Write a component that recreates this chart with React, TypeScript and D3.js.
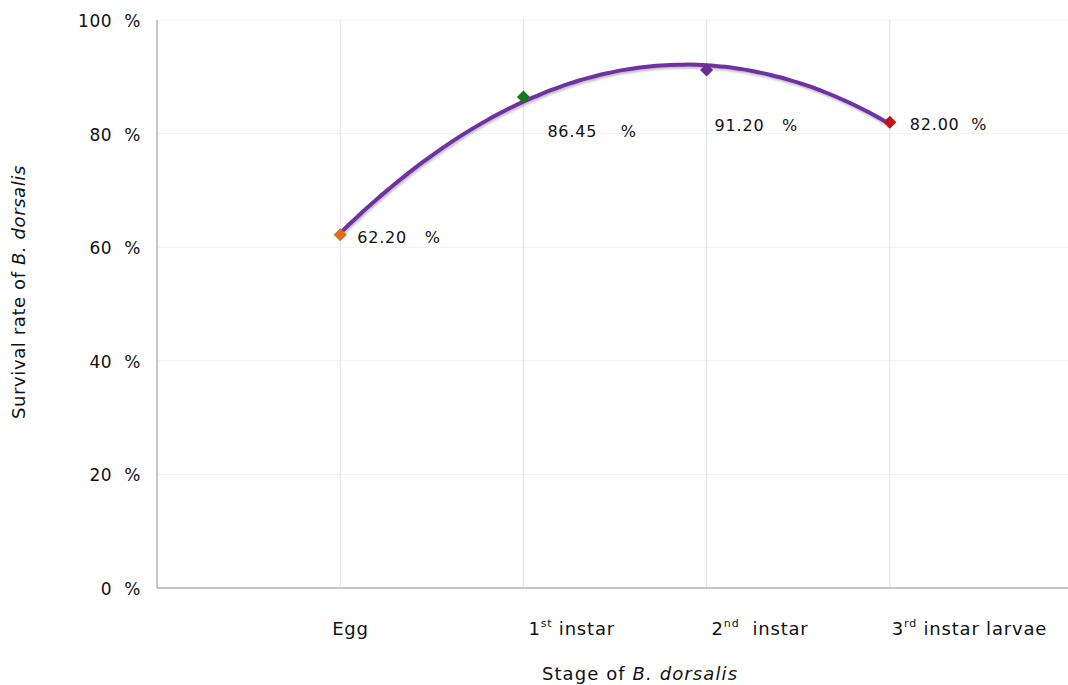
import React from "react";
import * as d3 from "d3";

const stages = ["Egg", "1st instar", "2nd instar", "3rd instar larvae"];
const stageMain = ["Egg", "1", "2", "3"];
const stageSup = ["", "st", "nd", "rd"];
const stageRest = ["", " instar", "  instar", " instar larvae"];
const survival = [62.2, 86.45, 91.2, 82.0];
const valueLabels = ["62.20   %", "86.45    %", "91.20   %", "82.00  %"];
const markerColors = ["#D9701F", "#167A16", "#6B2C91", "#C0131A"];
const yTicks = [0, 20, 40, 60, 80, 100];

const W = 1068;
const H = 685;
const M = { left: 157, top: 20, right: 1073, bottom: 588 };
const labelDx = [-8, 5, 5, 2];
const valueLabelPos = [
  { dx: 17, dy: 8 },
  { dx: 24, dy: 40 },
  { dx: 8, dy: 61 },
  { dx: 20, dy: 8 },
];

function quadFit(xs: number[], ys: number[]) {
  // least squares fit y = a + b x + c x^2 (polynomial trendline)
  const n = xs.length;
  const s = [0, 0, 0, 0, 0];
  const t = [0, 0, 0];
  for (let i = 0; i < n; i++) {
    const x = xs[i];
    for (let k = 0; k < 5; k++) s[k] += Math.pow(x, k);
    for (let k = 0; k < 3; k++) t[k] += ys[i] * Math.pow(x, k);
  }
  const A = [
    [s[0], s[1], s[2], t[0]],
    [s[1], s[2], s[3], t[1]],
    [s[2], s[3], s[4], t[2]],
  ];
  for (let i = 0; i < 3; i++) {
    for (let j = i + 1; j < 3; j++) {
      const f = A[j][i] / A[i][i];
      for (let k = i; k < 4; k++) A[j][k] -= f * A[i][k];
    }
  }
  const r = [0, 0, 0];
  for (let i = 2; i >= 0; i--) {
    let v = A[i][3];
    for (let k = i + 1; k < 3; k++) v -= A[i][k] * r[k];
    r[i] = v / A[i][i];
  }
  return (x: number) => r[0] + r[1] * x + r[2] * x * x;
}

export default function App() {
  const x = d3.scaleLinear().domain([0, 5]).range([M.left, M.right]);
  const y = d3.scaleLinear().domain([0, 100]).range([M.bottom, M.top]);
  const xs = stages.map((_, i) => i + 1);
  const f = quadFit(xs, survival);
  const samples = d3.range(1, 4.0001, 0.05).map((v) => [v, f(v)] as [number, number]);
  const line = d3
    .line<[number, number]>()
    .x((d) => x(d[0]))
    .y((d) => y(d[1]))
    .curve(d3.curveMonotoneX);
  const font = "'DejaVu Sans', sans-serif";
  const diamond = d3.symbol().type(d3.symbolDiamond2).size(110)();

  return (
    <svg width={W} height={H} style={{ position: "absolute", left: 0, top: 0, background: "#fff" }} fontFamily={font}>
      <defs>
        <filter id="sh" x="-10%" y="-10%" width="120%" height="130%">
          <feDropShadow dx="1" dy="2" stdDeviation="1.2" floodColor="#000" floodOpacity="0.25" />
        </filter>
      </defs>
      {yTicks.slice(1).map((t) => (
        <line key={"h" + t} x1={M.left} x2={M.right} y1={y(t)} y2={y(t)} stroke="#f1f1f1" strokeWidth={1} />
      ))}
      {xs.map((v) => (
        <line key={"v" + v} x1={x(v)} x2={x(v)} y1={M.top} y2={M.bottom} stroke="#e2e2e2" strokeWidth={1} />
      ))}
      <line x1={M.left} x2={M.left} y1={M.top} y2={M.bottom} stroke="#b3b3b3" strokeWidth={1.5} />
      <line x1={M.left} x2={M.right} y1={M.bottom} y2={M.bottom} stroke="#b3b3b3" strokeWidth={1.5} />
      {yTicks.map((t) => (
        <text key={"yt" + t} x={141} y={y(t) + 7} textAnchor="end" fontSize={17} letterSpacing={0.6} fill="#111" xmlSpace="preserve">
          {t + "  %"}
        </text>
      ))}
      {xs.map((v, i) => (
        <text key={"xt" + i} x={x(v) + labelDx[i]} y={635} fontSize={18} letterSpacing={0.8} fill="#111" xmlSpace="preserve">
          {stageMain[i]}
          {stageSup[i] && (
            <tspan fontSize={11} dy={-8}>
              {stageSup[i]}
            </tspan>
          )}
          <tspan dy={stageSup[i] ? 8 : 0}>{stageRest[i]}</tspan>
        </text>
      ))}
      <path d={line(samples) || ""} fill="none" stroke="#7030A0" strokeWidth={4} filter="url(#sh)" />
      {xs.map((v, i) => (
        <path
          key={"m" + i}
          d={diamond || ""}
          transform={`translate(${x(v)},${y(survival[i])})`}
          fill={markerColors[i]}
        />
      ))}
      {xs.map((v, i) => (
        <text
          key={"vl" + i}
          x={x(v) + valueLabelPos[i].dx}
          y={y(survival[i]) + valueLabelPos[i].dy}
          fontSize={16}
          letterSpacing={0.8}
          fill="#111"
          xmlSpace="preserve"
        >
          {valueLabels[i]}
        </text>
      ))}
      <text x={640} y={680} textAnchor="middle" fontSize={18} letterSpacing={1.1} fill="#111">
        Stage of <tspan fontStyle="italic">B. dorsalis</tspan>
      </text>
      <text transform={`translate(25,${292}) rotate(-90)`} textAnchor="middle" fontSize={18} letterSpacing={0.6} fill="#111">
        Survival rate of <tspan fontStyle="italic">B. dorsalis</tspan>
      </text>
    </svg>
  );
}
